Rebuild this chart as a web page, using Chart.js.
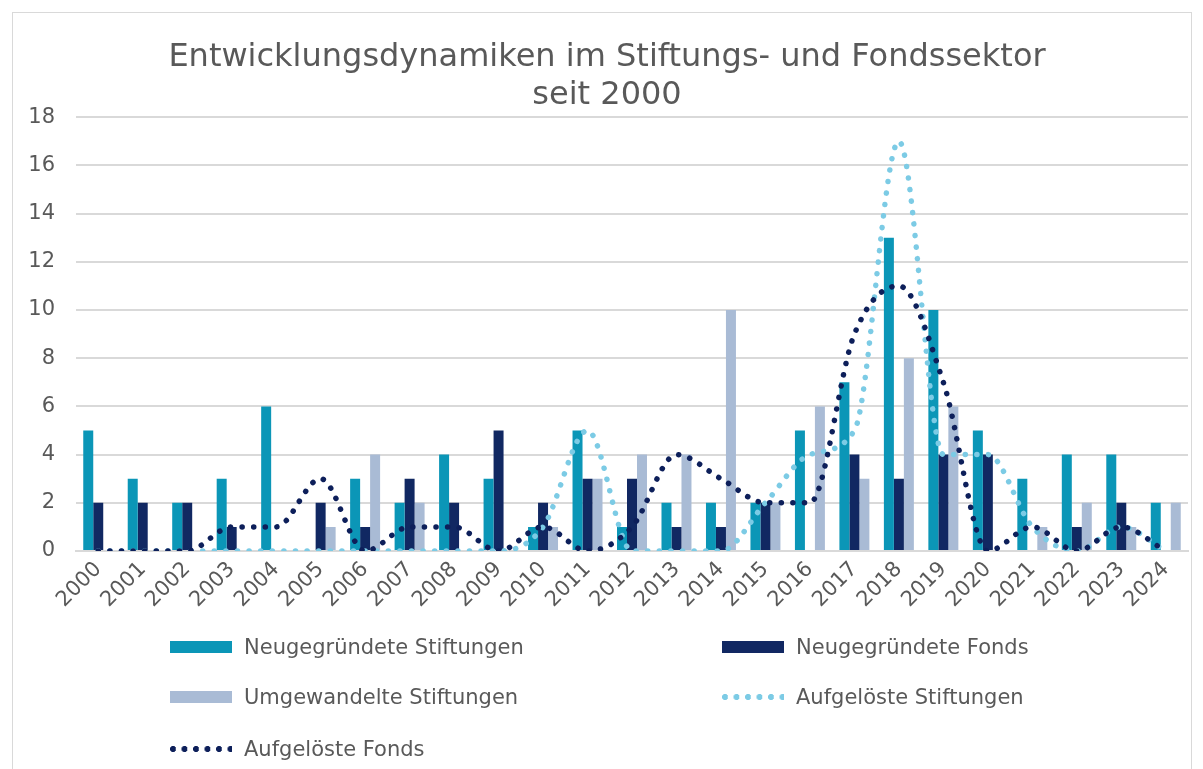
<!DOCTYPE html>
<html><head><meta charset="utf-8">
<script src="https://cdn.jsdelivr.net/npm/chart.js@4"></script>
<style>
html,body{margin:0;padding:0;background:#fff;}
body{width:1203px;height:769px;position:relative;overflow:hidden;font-family:"DejaVu Sans",Verdana,sans-serif;}
#frame{position:absolute;left:12px;top:12px;width:1180px;height:800px;border:1px solid #d9d9d9;box-sizing:border-box;}
#wrap{position:absolute;left:0;top:0;width:1203px;height:630px;}
#legend{position:absolute;left:0;top:0;width:1203px;height:769px;pointer-events:none;}
.item{position:absolute;display:flex;align-items:center;font-size:21px;color:#595959;white-space:nowrap;}
.sw{width:62px;height:12px;margin-right:12px;}
.dots{width:62px;height:6px;margin-right:12px;}
</style></head>
<body>
<div id="frame"></div>
<div id="wrap"><canvas id="c"></canvas></div>
<div id="legend"></div>
<script>
const years = ['2000','2001','2002','2003','2004','2005','2006','2007','2008','2009','2010','2011','2012','2013','2014','2015','2016','2017','2018','2019','2020','2021','2022','2023','2024'];
const neuStiftungen = [5,3,2,3,6,0,3,2,4,3,1,5,1,2,2,2,5,7,13,10,5,3,4,4,2];
const neuFonds      = [2,2,2,1,0,2,1,3,2,5,2,3,3,1,1,2,0,4,3,4,4,0,1,2,0];
const umgewandelt   = [0,0,0,0,0,1,4,2,0,0,1,3,4,4,10,2,6,3,8,6,0,1,2,1,2];
const aufgStiftungen= [0,0,0,0,0,0,0,0,0,0,1,5,0,0,0,2,4,5,17,4,4,1,0,1,0];
const aufgFonds     = [0,0,0,1,1,3,0,1,1,0,1,0,1,4,3,2,2,9,11,7,0,1,0,1,0];
const yTicks = [0,2,4,6,8,10,12,14,16,18];
const seriesNames = ['Neugegründete Stiftungen','Neugegründete Fonds','Umgewandelte Stiftungen','Aufgelöste Stiftungen','Aufgelöste Fonds'];

const C_TEAL='#0b96b7', C_NAVY='#112862', C_GRAY='#a9bbd5', C_LIGHT='#7ccbe5', C_DNAVY='#0d1f5a';
const FONT='"DejaVu Sans", Verdana, sans-serif';

const barCommon = {categoryPercentage:0.674, barPercentage:1.0, order:3};
const lineCommon = {type:'line', pointRadius:0, borderWidth:5.5, borderDash:[0.1,11.5], borderCapStyle:'round', cubicInterpolationMode:'monotone', fill:false};

const chart = new Chart(document.getElementById('c'), {
  type:'bar',
  data:{
    labels:years,
    datasets:[
      {label:seriesNames[0], data:neuStiftungen, backgroundColor:C_TEAL, ...barCommon},
      {label:seriesNames[1], data:neuFonds, backgroundColor:C_NAVY, ...barCommon},
      {label:seriesNames[2], data:umgewandelt, backgroundColor:C_GRAY, ...barCommon},
      {label:seriesNames[3], data:aufgStiftungen, borderColor:C_LIGHT, backgroundColor:C_LIGHT, ...lineCommon, order:2},
      {label:seriesNames[4], data:aufgFonds, borderColor:C_DNAVY, backgroundColor:C_DNAVY, ...lineCommon, order:1}
    ]
  },
  options:{
    responsive:true, maintainAspectRatio:false, animation:false,
    layout:{padding:{top:12,right:15,left:26,bottom:0}},
    plugins:{
      legend:{display:false},
      tooltip:{enabled:false},
      title:{display:true, text:['Entwicklungsdynamiken im Stiftungs- und Fondssektor','seit 2000'],
        color:'#595959', font:{family:FONT,size:32,weight:'normal',lineHeight:1.19}, padding:{top:27,bottom:2}}
    },
    scales:{
      x:{
        grid:{display:false, drawTicks:false},
        border:{display:true,color:'#d9d9d9',width:2},
        ticks:{color:'#595959', font:{family:FONT,size:21}, minRotation:45, maxRotation:45, autoSkip:false, padding:6},
        afterFit:(s)=>{s.height=79;}
      },
      y:{
        min:0,max:18,
        afterBuildTicks:(s)=>{s.ticks=yTicks.map(v=>({value:v}));},
        grid:{color:'#d9d9d9', lineWidth:2, drawTicks:false},
        border:{display:false},
        ticks:{color:'#595959', font:{family:FONT,size:21}, padding:21},
        afterFit:(s)=>{s.width=50;}
      }
    }
  }
});

// HTML legend built from datasets
const leg = document.getElementById('legend');
const pos = [[170,647],[722,647],[170,697],[722,697],[170,749]];
chart.data.datasets.forEach((ds,i)=>{
  const d=document.createElement('div'); d.className='item';
  d.style.left=pos[i][0]+'px'; d.style.top=(pos[i][1]-13)+'px'; d.style.height='26px';
  const m=document.createElement('span');
  if(ds.type==='line'){
    m.className='dots';
    m.style.background='radial-gradient(circle at 3px 3px, '+ds.borderColor+' 2.8px, transparent 3.2px) 0 0/11.5px 6px repeat-x';
  } else { m.className='sw'; m.style.background=ds.backgroundColor; }
  const t=document.createElement('span'); t.textContent=ds.label;
  d.appendChild(m); d.appendChild(t); leg.appendChild(d);
});
</script>
</body></html>
